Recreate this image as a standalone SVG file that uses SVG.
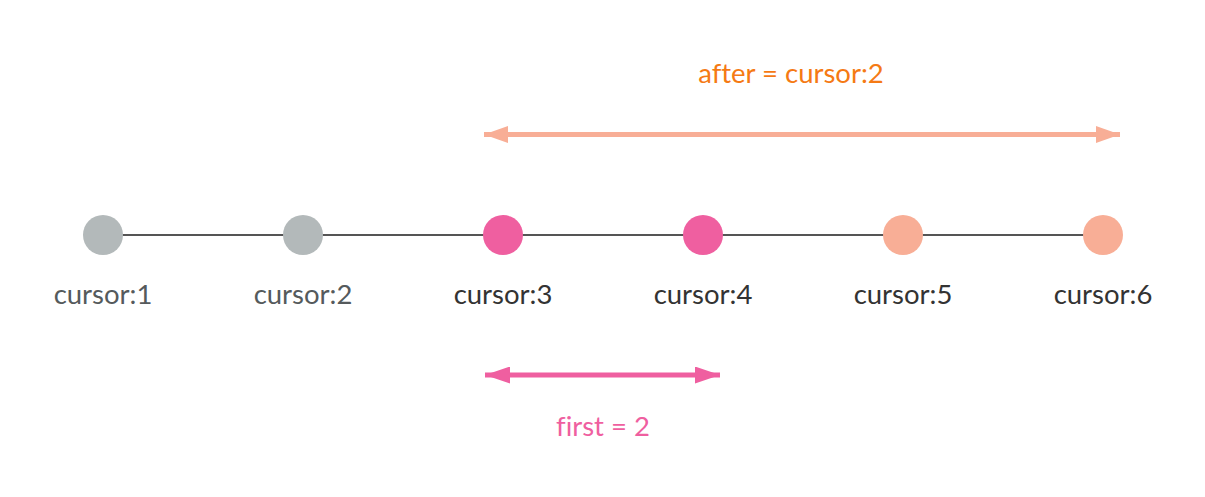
<svg xmlns="http://www.w3.org/2000/svg" width="1205" height="497" viewBox="0 0 1205 497">
<style>
text{font-family:Lato,"Noto Sans",sans-serif;font-size:27.5px;text-anchor:middle;font-variant-ligatures:none}
.lbl-old{fill:#555a5c}
.lbl{fill:#333333}
.gray{fill:#b3b9ba}
.pink{fill:#ef5fa0}
.salmon{fill:#f8ae96}
</style>
<defs>
<marker id="ahS" viewBox="0 0 24 17" refX="24" refY="8.5" markerWidth="24" markerHeight="17" markerUnits="userSpaceOnUse" orient="auto-start-reverse"><path d="M0,0 L24,8.5 L0,17 Z" fill="#f8ae96"/></marker>
<marker id="ahP" viewBox="0 0 25 17" refX="25" refY="8.5" markerWidth="25" markerHeight="17" markerUnits="userSpaceOnUse" orient="auto-start-reverse"><path d="M0,0 L25,8.5 L0,17 Z" fill="#ef5fa0"/></marker>
</defs>
<g id="connectors">
<line x1="103" y1="235" x2="1103" y2="235" stroke="#555555" stroke-width="2"/>
<line x1="484" y1="134.5" x2="1120" y2="134.5" stroke="#f8ae96" stroke-width="5" marker-start="url(#ahS)" marker-end="url(#ahS)"/>
<line x1="485" y1="375" x2="720" y2="375" stroke="#ef5fa0" stroke-width="5" marker-start="url(#ahP)" marker-end="url(#ahP)"/>
</g>
<g id="node1"><circle class="gray" cx="103" cy="235" r="20"/><text class="lbl-old" x="103" y="304">cursor:1</text></g>
<g id="node2"><circle class="gray" cx="303" cy="235" r="20"/><text class="lbl-old" x="303" y="304">cursor:2</text></g>
<g id="node3"><circle class="pink" cx="503" cy="235" r="20"/><text class="lbl" x="503" y="304">cursor:3</text></g>
<g id="node4"><circle class="pink" cx="703" cy="235" r="20"/><text class="lbl" x="703" y="304">cursor:4</text></g>
<g id="node5"><circle class="salmon" cx="903" cy="235" r="20"/><text class="lbl" x="903" y="304">cursor:5</text></g>
<g id="node6"><circle class="salmon" cx="1103" cy="235" r="20"/><text class="lbl" x="1103" y="304">cursor:6</text></g>
<g id="label-after"><text x="791" y="83" fill="#f57a14">after = cursor:2</text></g>
<g id="label-first"><text x="603" y="436" fill="#ef5fa0">first = 2</text></g>
</svg>
